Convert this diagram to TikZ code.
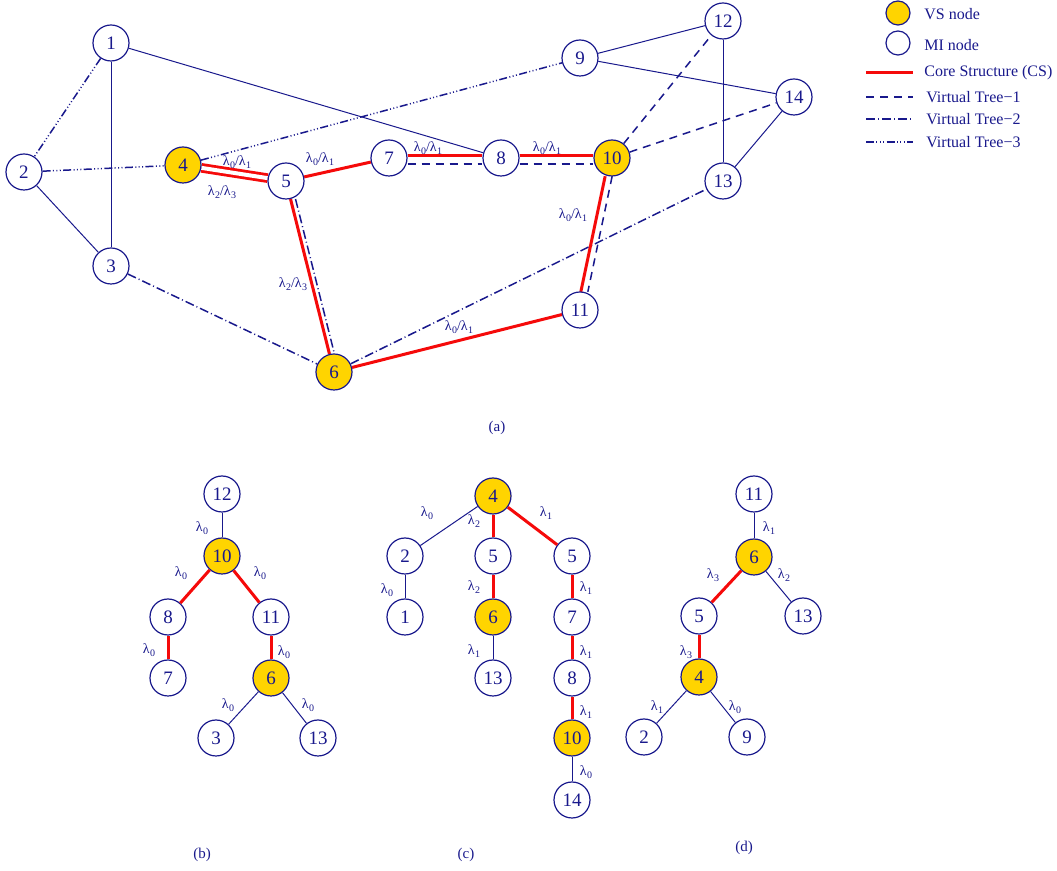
\documentclass[tikz,border=0pt]{standalone}
\usepackage{fontspec}
\setmainfont{Liberation Serif}
\usetikzlibrary{backgrounds}
\definecolor{nb}{RGB}{25,25,140}
\definecolor{csred}{RGB}{245,10,10}
\definecolor{vsy}{RGB}{255,212,0}
\newcommand{\lamsub}[1]{λ\kern0.2pt\raisebox{-0.45ex}{\fontsize{5}{5}\selectfont #1}}
\newcommand{\lamtwo}[2]{\lamsub{#1}/\lamsub{#2}}
\tikzset{
  nd/.style={circle, draw=nb, line width=0.6pt, minimum size=18pt, inner sep=0pt, text=nb, font=\fontsize{9.5}{10}\selectfont},
  vs/.style={nd, fill=vsy},
  mi/.style={nd, fill=white},
  thinedge/.style={draw=nb, line width=0.5pt},
  cs/.style={draw=csred, line width=1.5pt},
  csdouble/.style={draw=csred, line width=1.4pt, double=white, double distance=2pt},
  vtone/.style={draw=nb, line width=0.75pt, dash pattern=on 4pt off 3pt},
  vttwo/.style={draw=nb, line width=0.75pt, dash pattern=on 4.5pt off 1.5pt on 0.5pt off 1.5pt},
  vtthree/.style={draw=nb, line width=0.75pt, dash pattern=on 4pt off 1.2pt on 0.5pt off 1.2pt on 0.5pt off 1.2pt on 0.5pt off 1.2pt},
  lbl/.style={text=nb, font=\fontsize{7}{8}\selectfont, inner sep=0pt},
  captext/.style={text=nb, font=\fontsize{7.5}{9}\selectfont, inner sep=0pt},
  leg/.style={text=nb, font=\fontsize{8}{9}\selectfont, anchor=west, inner sep=0pt},
}
\begin{document}
\begin{tikzpicture}[x=0.5pt,y=-0.5pt]
\useasboundingbox (0,0) rectangle (1057,871);
% ---------------- (a) ----------------
\node[mi] (a1) at (111,43) {1};
\node[mi] (a2) at (24,172) {2};
\node[mi] (a3) at (111,266) {3};
\node[vs] (a4) at (183,165) {4};
\node[mi] (a5) at (286,181) {5};
\node[vs] (a6) at (334,372) {6};
\node[mi] (a7) at (389,158) {7};
\node[mi] (a8) at (501,158) {8};
\node[mi] (a9) at (580,58) {9};
\node[vs] (a10) at (612,158) {10};
\node[mi] (a11) at (580,310) {11};
\node[mi] (a12) at (723,21) {12};
\node[mi] (a13) at (723,181) {13};
\node[mi] (a14) at (794,97) {14};
\begin{pgfonlayer}{background}
\draw[thinedge] (a1) -- (a3);
\draw[thinedge] (a2) -- (a3);
\draw[thinedge] (a1) -- (a8);
\draw[thinedge] (a9) -- (a12);
\draw[thinedge] (a9) -- (a14);
\draw[thinedge] (a12) -- (a13);
\draw[thinedge] (a13) -- (a14);
\draw[vtthree] (a1) -- (a2);
\draw[vtthree] (a2) -- (a4);
\draw[vtthree] (a4) -- (a9);
\draw[vttwo] (a3) -- (a6);
\draw[vttwo] (a6) -- (a13);
\draw[vttwo, transform canvas={xshift=2.5pt}] (a5) -- (a6);
\draw[cs] (a5) -- (a6);
\draw[vtone] (a10) -- (a12);
\draw[vtone] (a10) -- (a14);
\draw[vtone, transform canvas={yshift=-3pt}] (a7) -- (a8);
\draw[cs, transform canvas={yshift=1pt}] (a7) -- (a8);
\draw[vtone, transform canvas={yshift=-3pt}] (a8) -- (a10);
\draw[cs, transform canvas={yshift=1pt}] (a8) -- (a10);
\draw[cs, transform canvas={xshift=-1.5pt}] (a10) -- (a11);
\draw[vtone, transform canvas={xshift=2pt}] (a10) -- (a11);
\draw[cs] (a6) -- (a11);
\draw[cs] (a5) -- (a7);
\draw[csdouble] (a4) -- (a5);
\end{pgfonlayer}
\node[lbl] (la1) at (237,162) {\lamtwo{0}{1}};
\node[lbl] (la2) at (222,192) {\lamtwo{2}{3}};
\node[lbl] (la3) at (320,159) {\lamtwo{0}{1}};
\node[lbl] (la4) at (293,284) {\lamtwo{2}{3}};
\node[lbl] (la5) at (428,148) {\lamtwo{0}{1}};
\node[lbl] (la6) at (547,148) {\lamtwo{0}{1}};
\node[lbl] (la7) at (573,215) {\lamtwo{0}{1}};
\node[lbl] (la8) at (459,327) {\lamtwo{0}{1}};
\node[captext] (capa) at (497,428) {(a)};
% ---------------- legend ----------------
\node[vs, minimum size=12pt] (legvs) at (898,13) {};
\node[mi, minimum size=12pt] (legmi) at (898,43) {};
\node[leg] (tvs) at (924,14) {VS node};
\node[leg] (tmi) at (924,45) {MI node};
\node[leg] (tcs) at (924,73) {Core Structure (CS)};
\node[leg] (tv1) at (926,97) {Virtual Tree−1};
\node[leg] (tv2) at (926,119) {Virtual Tree−2};
\node[leg] (tv3) at (926,142) {Virtual Tree−3};
\coordinate (ls1) at (866,73); \coordinate (le1) at (913,73);
\coordinate (ls2) at (866,97); \coordinate (le2) at (913,97);
\coordinate (ls3) at (866,119); \coordinate (le3) at (913,119);
\coordinate (ls4) at (866,142); \coordinate (le4) at (913,142);
\draw[cs] (ls1) -- (le1);
\draw[vtone] (ls2) -- (le2);
\draw[vttwo] (ls3) -- (le3);
\draw[vtthree] (ls4) -- (le4);
% ---------------- (b) ----------------
\node[mi] (b12) at (222,494) {12};
\node[vs] (b10) at (222,556) {10};
\node[mi] (b8) at (168,617) {8};
\node[mi] (b11) at (271,617) {11};
\node[mi] (b7) at (168,678) {7};
\node[vs] (b6) at (271,678) {6};
\node[mi] (b3) at (216,738) {3};
\node[mi] (b13) at (318,738) {13};
\draw[thinedge] (b12) -- (b10);
\draw[cs] (b10) -- (b8);
\draw[cs] (b10) -- (b11);
\draw[cs] (b8) -- (b7);
\draw[cs] (b11) -- (b6);
\draw[thinedge] (b6) -- (b3);
\draw[thinedge] (b6) -- (b13);
\node[lbl] at (202,528) {\lamsub{0}};
\node[lbl] at (181,573) {\lamsub{0}};
\node[lbl] at (260,573) {\lamsub{0}};
\node[lbl] at (149,650) {\lamsub{0}};
\node[lbl] at (284,652) {\lamsub{0}};
\node[lbl] at (228,705) {\lamsub{0}};
\node[lbl] at (308,705) {\lamsub{0}};
\node[captext] (capb) at (202,855) {(b)};
% ---------------- (c) ----------------
\node[vs] (c4) at (493,496) {4};
\node[mi] (c2) at (405,556) {2};
\node[mi] (c5a) at (493,556) {5};
\node[mi] (c5b) at (572,556) {5};
\node[mi] (c1) at (405,617) {1};
\node[vs] (c6) at (493,617) {6};
\node[mi] (c7) at (572,617) {7};
\node[mi] (c13) at (493,678) {13};
\node[mi] (c8) at (572,678) {8};
\node[vs] (c10) at (572,738) {10};
\node[mi] (c14) at (572,800) {14};
\draw[thinedge] (c4) -- (c2);
\draw[cs] (c4) -- (c5a);
\draw[cs] (c4) -- (c5b);
\draw[thinedge] (c2) -- (c1);
\draw[cs] (c5a) -- (c6);
\draw[thinedge] (c6) -- (c13);
\draw[cs] (c5b) -- (c7);
\draw[cs] (c7) -- (c8);
\draw[cs] (c8) -- (c10);
\draw[thinedge] (c10) -- (c14);
\node[lbl] at (427,513) {\lamsub{0}};
\node[lbl] at (474,521) {\lamsub{2}};
\node[lbl] at (546,513) {\lamsub{1}};
\node[lbl] at (387,590) {\lamsub{0}};
\node[lbl] at (474,587) {\lamsub{2}};
\node[lbl] at (474,651) {\lamsub{1}};
\node[lbl] at (586,588) {\lamsub{1}};
\node[lbl] at (586,652) {\lamsub{1}};
\node[lbl] at (586,712) {\lamsub{1}};
\node[lbl] at (586,772) {\lamsub{0}};
\node[captext] (capc) at (466,855) {(c)};
% ---------------- (d) ----------------
\node[mi] (d11) at (754,494) {11};
\node[vs] (d6) at (754,557) {6};
\node[mi] (d5) at (699,616) {5};
\node[mi] (d13) at (803,616) {13};
\node[vs] (d4) at (699,677) {4};
\node[mi] (d2) at (644,737) {2};
\node[mi] (d9) at (747,737) {9};
\draw[thinedge] (d11) -- (d6);
\draw[cs] (d6) -- (d5);
\draw[thinedge] (d6) -- (d13);
\draw[cs] (d5) -- (d4);
\draw[thinedge] (d4) -- (d2);
\draw[thinedge] (d4) -- (d9);
\node[lbl] at (769,528) {\lamsub{1}};
\node[lbl] at (713,575) {\lamsub{3}};
\node[lbl] at (784,575) {\lamsub{2}};
\node[lbl] at (686,652) {\lamsub{3}};
\node[lbl] at (657,707) {\lamsub{1}};
\node[lbl] at (735,707) {\lamsub{0}};
\node[captext] (capd) at (744,848) {(d)};
\end{tikzpicture}
\end{document}
